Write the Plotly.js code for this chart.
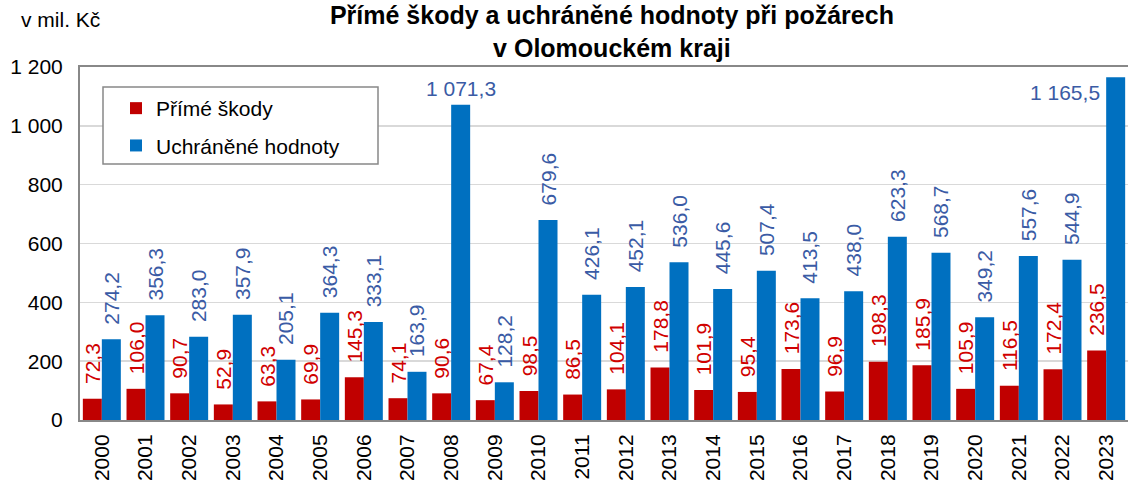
<!DOCTYPE html>
<html>
<head>
<meta charset="utf-8">
<script src="https://cdn.plot.ly/plotly-3.0.1.min.js"></script>
<style>html,body{margin:0;padding:0;background:#fff}#chart{width:1129px;height:482px}</style>
</head>
<body>
<div id="chart"></div>
<script>
const years = ['2000','2001','2002','2003','2004','2005','2006','2007','2008','2009','2010','2011','2012','2013','2014','2015','2016','2017','2018','2019','2020','2021','2022','2023'];
const primeSkody = [72.3,106.0,90.7,52.9,63.3,69.9,145.3,74.1,90.6,67.4,98.5,86.5,104.1,178.8,101.9,95.4,173.6,96.9,198.3,185.9,105.9,116.5,172.4,236.5];
const uchraneneHodnoty = [274.2,356.3,283.0,357.9,205.1,364.3,333.1,163.9,1071.3,128.2,679.6,426.1,452.1,536.0,445.6,507.4,413.5,438.0,623.3,568.7,349.2,557.6,544.9,1165.5];
const seriesNames = ['Přímé škody','Uchráněné hodnoty'];
const yTicks = [0,200,400,600,800,1000,1200];
const titleText = 'Přímé škody a uchráněné hodnoty při požárech<br>v Olomouckém kraji';

const FONT = 'Liberation Sans, Arial, sans-serif';
const FS = 21;
const RED = '#C00000', BLUE = '#0070C0', RED_TXT = '#D00000', BLUE_TXT = '#3A5BA5';
const BARGAP = 0.13;
const OFF = (1 - BARGAP) / 4;
const PAD = '\u00A0\u00A0';

function fmt(v){
  const parts = v.toFixed(1).split('.');
  const ip = parts[0].replace(/\B(?=(\d{3})+(?!\d))/g, ' ');
  return ip + ',' + parts[1];
}

const redText = primeSkody.map(v => PAD + fmt(v));
const blueText = uchraneneHodnoty.map(v => v > 1000 ? '' : PAD + fmt(v));

const traces = [
  {type:'bar', name:seriesNames[0], x:years, y:primeSkody, marker:{color:RED},
   text:redText, textposition:'outside', textangle:-90, constraintext:'none', cliponaxis:false,
   textfont:{family:FONT, size:FS, color:RED_TXT}, legendgroup:'a', hoverinfo:'y'},
  {type:'bar', name:seriesNames[1], x:years, y:uchraneneHodnoty, marker:{color:BLUE},
   text:blueText, textposition:'outside', textangle:-90, constraintext:'none', cliponaxis:false,
   textfont:{family:FONT, size:FS, color:BLUE_TXT}, legendgroup:'b', hoverinfo:'y'}
];

const annotations = [
  {xref:'paper', yref:'paper', x:-0.058, y:1.135, xanchor:'left', yanchor:'middle',
   text:'v mil. Kč', showarrow:false, font:{family:FONT, size:FS, color:'#000'}}
];
uchraneneHodnoty.forEach((v,i)=>{
  if (v > 1000 && i === years.length-1) {
    annotations.push({x:i, y:v, xref:'x', yref:'y', xanchor:'right', yanchor:'top',
      xshift:-4, yshift:-2, text:fmt(v), showarrow:false,
      font:{family:FONT, size:FS, color:BLUE_TXT}});
  } else if (v > 1000) {
    annotations.push({x:i + OFF, y:v, xref:'x', yref:'y', xanchor:'center', yanchor:'bottom',
      yshift:3, text:fmt(v), showarrow:false,
      font:{family:FONT, size:FS, color:BLUE_TXT}});
  }
});

const W = 1129 - 80 - 1, H = 482 - 67 - 62;
const shapes = [
  {type:'rect', xref:'paper', yref:'paper', layer:'above',
   x0:(103-80)/W, x1:(378-80)/W, y0:(420-164)/H, y1:(420-87)/H,
   fillcolor:'#fff', line:{color:'#888', width:1.5}}
];

const layout = {
  width:1129, height:482,
  margin:{l:80, r:1, t:67, b:62},
  paper_bgcolor:'#fff', plot_bgcolor:'#fff',
  separators:', ',
  font:{family:FONT, size:FS, color:'#000'},
  title:{text:'<b>' + titleText + '</b>',
    font:{family:FONT, size:25, color:'#000'}, x:0.542, xanchor:'center',
    y:1 - 24/482, yref:'container', yanchor:'middle'},
  barmode:'group', bargap:BARGAP, bargroupgap:0,
  showlegend:true,
  legend:{x:(116-80)/W, y:(420-88)/H, xanchor:'left', yanchor:'top', bgcolor:'rgba(0,0,0,0)',
    borderwidth:0, font:{family:FONT, size:FS, color:'#000'},
    tracegroupgap:7, traceorder:'grouped'},
  xaxis:{type:'category', tickangle:-90, showline:true, linecolor:'#888', linewidth:2, mirror:true,
    ticks:'', ticklabelstandoff:4, tickfont:{family:FONT, size:FS, color:'#000'}, showgrid:false, fixedrange:true,
    range:[-0.5, years.length-0.5]},
  yaxis:{range:[0,1200], tickvals:yTicks, separatethousands:true, tickformat:',d',
    showline:true, linecolor:'#888', linewidth:2, gridcolor:'#d9d9d9', gridwidth:1.5,
    ticks:'', ticklabelstandoff:11, tickfont:{family:FONT, size:FS, color:'#000'}, zeroline:false, fixedrange:true},
  shapes:shapes,
  annotations:annotations
};

Plotly.newPlot('chart', traces, layout, {displayModeBar:false, staticPlot:true});
</script>
</body>
</html>
